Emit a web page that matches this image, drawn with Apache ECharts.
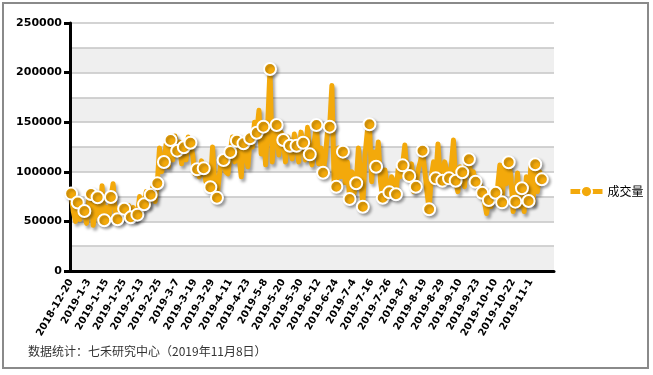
<!DOCTYPE html>
<html><head><meta charset="utf-8">
<script src="https://cdn.jsdelivr.net/npm/echarts@6/dist/echarts.min.js"></script>
<style>html,body{margin:0;padding:0;background:#fff}#c{width:653px;height:375px}</style>
</head><body><div id="c"></div>
<script>
const dates = [
'2018-12-20','2018-12-21','2018-12-24','2018-12-25','2018-12-26','2018-12-27','2018-12-28',
'2019-1-2','2019-1-3','2019-1-4','2019-1-7','2019-1-8','2019-1-9','2019-1-10','2019-1-11','2019-1-14','2019-1-15','2019-1-16','2019-1-17','2019-1-18','2019-1-21','2019-1-22','2019-1-23','2019-1-24','2019-1-25','2019-1-28','2019-1-29','2019-1-30','2019-1-31',
'2019-2-1','2019-2-11','2019-2-12','2019-2-13','2019-2-14','2019-2-15','2019-2-18','2019-2-19','2019-2-20','2019-2-21','2019-2-22','2019-2-25','2019-2-26','2019-2-27','2019-2-28',
'2019-3-1','2019-3-4','2019-3-5','2019-3-6','2019-3-7','2019-3-8','2019-3-11','2019-3-12','2019-3-13','2019-3-14','2019-3-15','2019-3-18','2019-3-19','2019-3-20','2019-3-21','2019-3-22','2019-3-25','2019-3-26','2019-3-27','2019-3-28','2019-3-29',
'2019-4-1','2019-4-2','2019-4-3','2019-4-4','2019-4-8','2019-4-9','2019-4-10','2019-4-11','2019-4-12','2019-4-15','2019-4-16','2019-4-17','2019-4-18','2019-4-19','2019-4-22','2019-4-23','2019-4-24','2019-4-25','2019-4-26','2019-4-29','2019-4-30',
'2019-5-6','2019-5-7','2019-5-8','2019-5-9','2019-5-10','2019-5-13','2019-5-14','2019-5-15','2019-5-16','2019-5-17','2019-5-20','2019-5-21','2019-5-22','2019-5-23','2019-5-24','2019-5-27','2019-5-28','2019-5-29','2019-5-30','2019-5-31',
'2019-6-3','2019-6-4','2019-6-5','2019-6-6','2019-6-10','2019-6-11','2019-6-12','2019-6-13','2019-6-14','2019-6-17','2019-6-18','2019-6-19','2019-6-20','2019-6-21','2019-6-24','2019-6-25','2019-6-26','2019-6-27','2019-6-28',
'2019-7-1','2019-7-2','2019-7-3','2019-7-4','2019-7-5','2019-7-8','2019-7-9','2019-7-10','2019-7-11','2019-7-12','2019-7-15','2019-7-16','2019-7-17','2019-7-18','2019-7-19','2019-7-22','2019-7-23','2019-7-24','2019-7-25','2019-7-26','2019-7-29','2019-7-30','2019-7-31',
'2019-8-1','2019-8-2','2019-8-5','2019-8-6','2019-8-7','2019-8-8','2019-8-9','2019-8-12','2019-8-13','2019-8-14','2019-8-15','2019-8-16','2019-8-19','2019-8-20','2019-8-21','2019-8-22','2019-8-23','2019-8-26','2019-8-27','2019-8-28','2019-8-29','2019-8-30',
'2019-9-2','2019-9-3','2019-9-4','2019-9-5','2019-9-6','2019-9-9','2019-9-10','2019-9-11','2019-9-12','2019-9-16','2019-9-17','2019-9-18','2019-9-19','2019-9-20','2019-9-23','2019-9-24','2019-9-25','2019-9-26','2019-9-27','2019-9-30',
'2019-10-8','2019-10-9','2019-10-10','2019-10-11','2019-10-14','2019-10-15','2019-10-16','2019-10-17','2019-10-18','2019-10-21','2019-10-22','2019-10-23','2019-10-24','2019-10-25','2019-10-28','2019-10-29','2019-10-30','2019-10-31',
'2019-11-1','2019-11-4','2019-11-5','2019-11-6','2019-11-7','2019-11-8'
];
const volume = [
78000,60000,50000,69000,52000,66000,60500,48000,72000,77600,
46000,62000,74300,50000,86000,51100,64000,50000,74600,88000,
58000,52100,64000,52000,62800,55000,66000,54100,64000,52000,
56800,75000,60000,67200,80000,66000,76900,85000,70000,88400,
124000,100000,109900,128000,105000,132000,112000,136000,121300,130000,
108000,124700,112000,135000,129300,117000,98000,102500,95000,111000,
103500,90000,98000,84400,125000,88000,73900,95000,112000,111900,
100000,98000,120000,135000,110000,131300,115000,95000,128700,120000,
105000,133800,125000,150000,139400,162000,118000,145500,107000,150000,
203600,110000,140000,147200,117000,140000,132000,110000,135000,126300,
113000,138000,126300,110000,140000,129300,112000,145000,117600,107000,
130000,147200,108000,124000,99100,114000,140000,145500,187000,90000,
85000,124000,95000,120300,89000,110000,72600,100000,78000,88400,
124000,96000,64800,117000,140000,147900,90000,120000,105100,130000,
90000,73900,101800,85000,79300,95000,90000,77300,103000,95000,
106500,127000,98000,95800,108000,80000,85000,102000,110000,121300,
102000,80000,62200,95000,110000,93400,128000,95000,91000,110000,
100000,93400,105000,132000,91000,80000,105000,99500,85000,115000,
112600,95000,100000,90000,85000,88000,78900,70000,58000,71600,
65000,75000,78900,85000,106800,69200,105000,88000,109600,95000,
60000,69900,98800,65000,83400,60000,95000,70600,105000,68000,
107600,80000,100000,92400
];
const seriesName = '成交量';
const footNote = '数据统计：七禾研究中心（2019年11月8日）';
const yMax = 250000;

const ORANGE = '#F3A90B';
const chart = echarts.init(document.getElementById('c'), null, {renderer: 'canvas'});
const seriesData = volume.map((v, i) => i % 3 === 0 ? {value: v} : {value: v, symbol: 'none'});
chart.setOption({
  animation: false,
  backgroundColor: '#fff',
  grid: {left: 70, right: 99, top: 23, bottom: 104, containLabel: false},
  legend: {
    left: 563, top: 180, itemWidth: 32, itemHeight: 14, itemGap: 4,
    data: [seriesName],
    lineStyle: {width: 5},
    textStyle: {fontFamily: 'Noto Sans CJK SC', fontSize: 12, color: '#000'}
  },
  xAxis: {
    type: 'category', data: dates, max: 218, boundaryGap: true,
    axisLine: {lineStyle: {color: '#000', width: 3}},
    axisTick: {interval: 7, length: 5, lineStyle: {color: '#000', width: 3}},
    axisLabel: {interval: 7, rotate: 60, margin: 9, fontFamily: 'DejaVu Sans', fontWeight: 'bold', fontSize: 10, color: '#000'},
    splitLine: {show: false}
  },
  yAxis: [{
    type: 'value', min: 0, max: yMax, interval: 25000,
    axisLine: {show: false}, axisTick: {show: false}, axisLabel: {show: false},
    splitLine: {show: true, lineStyle: {color: '#c4c4c4', width: 1.5}},
    splitArea: {show: true, areaStyle: {color: ['#efefef', '#ffffff']}}
  }, {
    type: 'value', min: 0, max: yMax, interval: 50000, position: 'left',
    axisLine: {show: true, lineStyle: {color: '#000', width: 3}},
    axisTick: {show: true, length: 6, lineStyle: {color: '#000', width: 3}},
    axisLabel: {margin: 8, fontFamily: 'DejaVu Sans', fontWeight: 'bold', fontSize: 11, color: '#000',
      formatter: v => String(v)},
    splitLine: {show: false}, splitArea: {show: false}
  }],
  series: [{
    name: seriesName, type: 'line', data: seriesData, yAxisIndex: 0,
    symbol: 'circle', symbolSize: 12, showAllSymbol: true,
    lineStyle: {color: ORANGE, width: 5, join: 'round',
      shadowColor: 'rgba(0,0,0,0.35)', shadowBlur: 3, shadowOffsetX: 2, shadowOffsetY: 3},
    itemStyle: {color: ORANGE, borderColor: '#fff', borderWidth: 2,
      shadowColor: 'rgba(0,0,0,0.3)', shadowBlur: 3, shadowOffsetX: 2, shadowOffsetY: 2},
    emphasis: {disabled: true}
  }],
  graphic: [
    {type: 'rect', shape: {x: 3, y: 3, width: 645, height: 365}, style: {fill: 'none', stroke: '#8a8a8a', lineWidth: 2}, silent: true, z: 100},
    {type: 'text', left: 28, top: 345, style: {text: footNote, font: '12px "Noto Sans CJK SC"', fill: '#333'}}
  ]
});
</script></body></html>
